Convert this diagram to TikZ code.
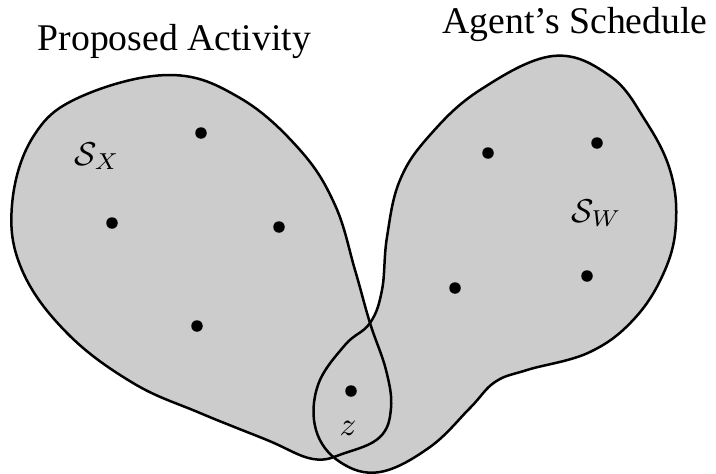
\documentclass[tikz,border=0pt]{standalone}
\usepackage{fontspec}
\setmainfont{Liberation Serif}
\begin{document}
\begin{tikzpicture}[x=1pt,y=-1pt,
  blobfill/.style={fill=black!20},
  outline/.style={line width=2.5pt, line join=round},
  dot/.style={circle, fill=black, inner sep=0pt, minimum size=11.5pt},
  title/.style={inner sep=0pt, anchor=base west, scale=3.77},
  mlabel/.style={inner sep=0pt, anchor=base west, scale=3.3}]
\useasboundingbox (0,0) rectangle (716,474);
\def\leftblob{plot[smooth cycle, tension=0.65] coordinates {(170,75) (240,98) (300,150) (335,205) (355,270) (370,323) (386,370) (391,408) (380,437) (345,453) (313,459) (267,440) (200,413) (133,383) (67,333) (22,270) (12,205) (33,137) (80,97)}}
\def\rightblob{plot[smooth cycle, tension=0.65] coordinates {(553,56) (610,76) (645,120) (670,170) (676,222) (665,270) (635,318) (590,352) (527,370) (495,382) (470,408) (430,447) (380,472) (340,462) (316,430) (318,385) (345,345) (370,323) (382,290) (387,237) (400,180) (430,135) (480,90)}}
\fill[blobfill] \leftblob;
\fill[blobfill] \rightblob;
\draw[outline] \leftblob;
\draw[outline] \rightblob;
\node[title] (ta) at (37,50) {Proposed Activity};
\node[title] (tb) at (442,33) {Agent’s Schedule};
\node[dot] (x1) at (201,133) {};
\node[dot] (x2) at (112,223) {};
\node[dot] (x3) at (279,227) {};
\node[dot] (x4) at (197,326) {};
\node[dot] (w1) at (488,153) {};
\node[dot] (w2) at (597,143) {};
\node[dot] (w3) at (455,288) {};
\node[dot] (w4) at (587,276) {};
\node[dot] (zd) at (351,391) {};
\node[mlabel] (sx) at (74,165) {$\mathcal{S}_X$};
\node[mlabel] (sw) at (571,222) {$\mathcal{S}_W$};
\node[mlabel] (zl) at (339,435) {$z$};
\end{tikzpicture}
\end{document}
